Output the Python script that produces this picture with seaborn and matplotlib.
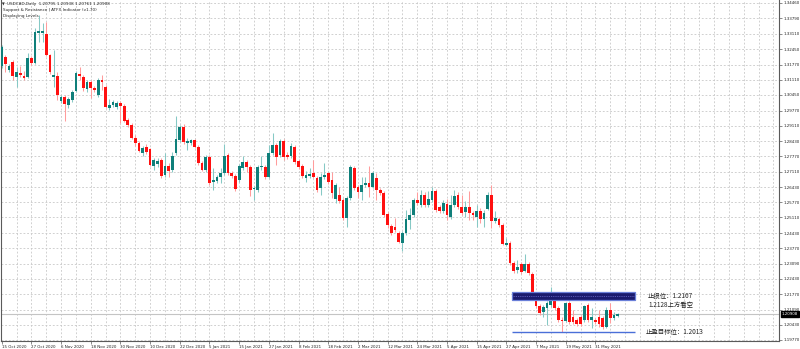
import matplotlib
matplotlib.use("Agg")
import matplotlib.pyplot as plt
from matplotlib.patches import Rectangle
import matplotlib.transforms as mtransforms
import numpy as np
import pandas as pd
import seaborn as sns

sns.set_theme(style="white")
plt.rcParams["font.family"] = ["DejaVu Sans"]

# ---- daily USDCAD candles ----
opens = [1.3171, 1.3211, 1.3154, 1.3189, 1.3123, 1.3141, 1.3128, 1.3123, 1.3206, 1.3184,
         1.3315, 1.3315, 1.3311, 1.3219, 1.3123, 1.3128, 1.3019, 1.3036, 1.3001, 1.3023,
         1.3062, 1.3136, 1.3123, 1.3071, 1.3101, 1.3075, 1.3045, 1.3110, 1.3080, 1.2988,
         1.3001, 1.2993, 1.3010, 1.2997, 1.2936, 1.2914, 1.2857, 1.2836, 1.2792, 1.2818,
         1.2809, 1.2735, 1.2744, 1.2761, 1.2696, 1.2735, 1.2718, 1.2792, 1.2849, 1.2905,
         1.2836, 1.2836, 1.2849, 1.2818, 1.2748, 1.2718, 1.2775, 1.2666, 1.2670, 1.2687,
         1.2705, 1.2783, 1.2705, 1.2692, 1.2674, 1.2727, 1.2753, 1.2731, 1.2635, 1.2631,
         1.2731, 1.2731, 1.2687, 1.2792, 1.2827, 1.2783, 1.2844, 1.2783, 1.2779, 1.2818,
         1.2757, 1.2735, 1.2683, 1.2692, 1.2705, 1.2683, 1.2639, 1.2687, 1.2705, 1.2674,
         1.2591, 1.2609, 1.2587, 1.2509, 1.2596, 1.2727, 1.2644, 1.2622, 1.2653, 1.2661,
         1.2644, 1.2683, 1.2631, 1.2618, 1.2526, 1.2474, 1.2469, 1.2443, 1.2400, 1.2443,
         1.2500, 1.2522, 1.2587, 1.2565, 1.2609, 1.2565, 1.2587, 1.2626, 1.2557, 1.2539,
         1.2570, 1.2513, 1.2565, 1.2609, 1.2557, 1.2535, 1.2557, 1.2530, 1.2513, 1.2539,
         1.2504, 1.2548, 1.2609, 1.2495, 1.2504, 1.2478, 1.2391, 1.2400, 1.2312, 1.2282,
         1.2308, 1.2277, 1.2308, 1.2264, 1.2160, 1.2125, 1.2099, 1.2116, 1.2129, 1.2164,
         1.2116, 1.2064, 1.2059, 1.2138, 1.2077, 1.2064, 1.2077, 1.2064, 1.2129, 1.2064,
         1.2064, 1.2077, 1.2072, 1.2033, 1.2107, 1.2072, 1.20795]
highs = [1.3263, 1.3219, 1.3180, 1.3197, 1.3167, 1.3171, 1.3149, 1.3228, 1.3215, 1.3337,
         1.3394, 1.3359, 1.3363, 1.3224, 1.3241, 1.3145, 1.3045, 1.3045, 1.3036, 1.3067,
         1.3149, 1.3167, 1.3132, 1.3110, 1.3110, 1.3084, 1.3119, 1.3132, 1.3088, 1.3027,
         1.3023, 1.3019, 1.3019, 1.3006, 1.2945, 1.2923, 1.2870, 1.2844, 1.2823, 1.2831,
         1.2814, 1.2770, 1.2770, 1.2770, 1.2792, 1.2748, 1.2796, 1.2953, 1.2914, 1.2918,
         1.2857, 1.2853, 1.2853, 1.2827, 1.2757, 1.2783, 1.2783, 1.2727, 1.2696, 1.2727,
         1.2831, 1.2792, 1.2713, 1.2700, 1.2744, 1.2779, 1.2761, 1.2740, 1.2648, 1.2740,
         1.2779, 1.2740, 1.2827, 1.2879, 1.2836, 1.2853, 1.2853, 1.2796, 1.2836, 1.2827,
         1.2766, 1.2744, 1.2713, 1.2727, 1.2761, 1.2692, 1.2705, 1.2748, 1.2709, 1.2709,
         1.2661, 1.2644, 1.2596, 1.2604, 1.2740, 1.2735, 1.2653, 1.2687, 1.2687, 1.2735,
         1.2713, 1.2705, 1.2639, 1.2626, 1.2535, 1.2482, 1.2509, 1.2452, 1.2452, 1.2543,
         1.2552, 1.2596, 1.2622, 1.2631, 1.2622, 1.2626, 1.2644, 1.2635, 1.2565, 1.2587,
         1.2591, 1.2609, 1.2631, 1.2622, 1.2609, 1.2583, 1.2626, 1.2539, 1.2565, 1.2552,
         1.2543, 1.2622, 1.2653, 1.2539, 1.2513, 1.2487, 1.2421, 1.2408, 1.2321, 1.2325,
         1.2317, 1.2352, 1.2317, 1.2273, 1.2168, 1.2134, 1.2129, 1.2147, 1.2208, 1.2173,
         1.2125, 1.2077, 1.2143, 1.2147, 1.2107, 1.2072, 1.2086, 1.2129, 1.2138, 1.2116,
         1.2072, 1.2107, 1.2081, 1.2121, 1.2138, 1.2099, 1.20938]
lows = [1.3163, 1.3145, 1.3145, 1.3110, 1.3080, 1.3123, 1.3110, 1.3119, 1.3176, 1.3180,
        1.3276, 1.3276, 1.3215, 1.3136, 1.3080, 1.3023, 1.3010, 1.2931, 1.2988, 1.3014,
        1.3058, 1.3110, 1.3062, 1.3058, 1.3032, 1.3058, 1.3036, 1.3067, 1.2988, 1.2979,
        1.2993, 1.2984, 1.2923, 1.2927, 1.2905, 1.2853, 1.2823, 1.2796, 1.2779, 1.2788,
        1.2735, 1.2718, 1.2731, 1.2683, 1.2687, 1.2687, 1.2709, 1.2783, 1.2840, 1.2831,
        1.2805, 1.2827, 1.2814, 1.2740, 1.2713, 1.2709, 1.2653, 1.2631, 1.2661, 1.2661,
        1.2696, 1.2696, 1.2683, 1.2626, 1.2666, 1.2718, 1.2709, 1.2604, 1.2587, 1.2622,
        1.2718, 1.2679, 1.2683, 1.2783, 1.2740, 1.2775, 1.2761, 1.2766, 1.2770, 1.2744,
        1.2722, 1.2683, 1.2666, 1.2683, 1.2683, 1.2622, 1.2609, 1.2679, 1.2657, 1.2596,
        1.2574, 1.2574, 1.2500, 1.2469, 1.2587, 1.2631, 1.2596, 1.2587, 1.2644, 1.2600,
        1.2639, 1.2587, 1.2609, 1.2513, 1.2465, 1.2434, 1.2447, 1.2400, 1.2365, 1.2434,
        1.2461, 1.2513, 1.2565, 1.2557, 1.2557, 1.2557, 1.2578, 1.2535, 1.2530, 1.2530,
        1.2500, 1.2504, 1.2557, 1.2548, 1.2522, 1.2513, 1.2500, 1.2500, 1.2469, 1.2487,
        1.2469, 1.2543, 1.2465, 1.2487, 1.2469, 1.2391, 1.2386, 1.2304, 1.2269, 1.2269,
        1.2264, 1.2273, 1.2260, 1.2151, 1.2116, 1.2086, 1.2077, 1.2042, 1.2121, 1.2107,
        1.2055, 1.2011, 1.2055, 1.2046, 1.2046, 1.2038, 1.2038, 1.2055, 1.2055, 1.2029,
        1.2046, 1.2033, 1.2025, 1.2029, 1.2051, 1.2064, 1.20761]
closes = [1.3254, 1.3180, 1.3171, 1.3128, 1.3145, 1.3132, 1.3119, 1.3206, 1.3184, 1.3319,
          1.3324, 1.3324, 1.3219, 1.3145, 1.3132, 1.3045, 1.3036, 1.3006, 1.3027, 1.3058,
          1.3141, 1.3128, 1.3075, 1.3101, 1.3075, 1.3067, 1.3110, 1.3101, 1.2993, 1.3001,
          1.3014, 1.3010, 1.2997, 1.2931, 1.2914, 1.2857, 1.2836, 1.2801, 1.2814, 1.2796,
          1.2740, 1.2761, 1.2757, 1.2692, 1.2735, 1.2713, 1.2779, 1.2853, 1.2905, 1.2840,
          1.2844, 1.2849, 1.2818, 1.2748, 1.2718, 1.2775, 1.2661, 1.2674, 1.2687, 1.2705,
          1.2779, 1.2705, 1.2692, 1.2635, 1.2735, 1.2753, 1.2731, 1.2631, 1.2639, 1.2731,
          1.2735, 1.2687, 1.2792, 1.2827, 1.2775, 1.2844, 1.2775, 1.2775, 1.2823, 1.2753,
          1.2731, 1.2692, 1.2696, 1.2700, 1.2687, 1.2631, 1.2687, 1.2696, 1.2666, 1.2618,
          1.2653, 1.2583, 1.2509, 1.2596, 1.2731, 1.2639, 1.2622, 1.2653, 1.2661, 1.2644,
          1.2705, 1.2631, 1.2618, 1.2522, 1.2478, 1.2443, 1.2456, 1.2404, 1.2443, 1.2504,
          1.2522, 1.2587, 1.2574, 1.2609, 1.2565, 1.2591, 1.2626, 1.2543, 1.2539, 1.2574,
          1.2522, 1.2565, 1.2604, 1.2557, 1.2530, 1.2557, 1.2530, 1.2522, 1.2539, 1.2504,
          1.2530, 1.2609, 1.2495, 1.2509, 1.2478, 1.2395, 1.2400, 1.2312, 1.2277, 1.2295,
          1.2273, 1.2308, 1.2269, 1.2160, 1.2125, 1.2094, 1.2121, 1.2138, 1.2164, 1.2116,
          1.2064, 1.2059, 1.2138, 1.2055, 1.2055, 1.2046, 1.2046, 1.2125, 1.2064, 1.2077,
          1.2055, 1.2046, 1.2033, 1.2107, 1.2072, 1.2086, 1.20908]

date_labels = ["15 Oct 2020", "27 Oct 2020", "6 Nov 2020", "18 Nov 2020", "30 Nov 2020",
               "10 Dec 2020", "22 Dec 2020", "5 Jan 2021", "15 Jan 2021", "27 Jan 2021",
               "8 Feb 2021", "18 Feb 2021", "2 Mar 2021", "12 Mar 2021", "24 Mar 2021",
               "5 Apr 2021", "15 Apr 2021", "27 Apr 2021", "7 May 2021", "19 May 2021",
               "31 May 2021"]
price_levels = [1.34460, 1.33790, 1.33110, 1.32450, 1.31770, 1.31110, 1.30450, 1.29770,
                1.29110, 1.28430, 1.27770, 1.27110, 1.26430, 1.25770, 1.25110, 1.24430,
                1.23770, 1.23090, 1.22430, 1.21770, 1.21090, 1.20430, 1.19770]

stop_loss = 1.2167
bear_below = 1.2128
take_profit = 1.2013

# ---- figure ----
W, H = 800, 349
fig = plt.figure(figsize=(W / 100, H / 100), dpi=100)
fig.patch.set_facecolor("white")
ax = fig.add_axes([1 / W, 8 / H, 778 / W, 341 / H])
ax.set_facecolor("white")

df = pd.DataFrame({"open": opens, "high": highs, "low": lows, "close": closes})
df["bar"] = np.arange(len(df))
up = df["close"] >= df["open"]

bull, bear = "#0f7f7a", "#ff1010"
bull_wick, bear_wick = "#86c9c5", "#ff9c9c"

for mask, body_c, wick_c in [(up, bull, bull_wick), (~up, bear, bear_wick)]:
    d = df[mask]
    ax.vlines(d["bar"], d["low"], d["high"], color=wick_c, lw=0.75, zorder=3)
    lo = np.minimum(d["open"], d["close"])
    h = np.maximum(np.abs(d["close"] - d["open"]), 0.00025)
    ax.bar(d["bar"], h, bottom=lo, width=0.74, color=body_c, linewidth=0, zorder=4)

x_left, x_right = -0.19, 209.5
ax.set_xlim(x_left, x_right)
ax.set_ylim(1.19722, 1.3459)

# dashed grid every 4 bars and at every price level
grid_kw = dict(color="#c9c9c9", lw=0.6, ls=(0, (2.2, 2.2)), zorder=1)
for gx in range(4, int(x_right) + 1, 4):
    ax.axvline(gx, **grid_kw)
for lv in price_levels:
    ax.axhline(lv, **grid_kw)

# last price line
last = closes[-1]
ax.axhline(last, color="#c4c4c4", lw=0.8, zorder=2)

# stop-loss band and target line
zone_x0, zone_x1 = 137.6, 170.7
band = Rectangle((zone_x0, stop_loss - 0.0017), zone_x1 - zone_x0, 0.0034,
                 facecolor="#1b1b6e", edgecolor="#6a7fd8", lw=0.9, zorder=5)
ax.add_patch(band)
ax.hlines(stop_loss, zone_x0, zone_x1, color="#7070d0", lw=0.6, ls=(0, (1, 1.2)), zorder=6)
ax.hlines(take_profit, zone_x0, zone_x1, color="#4a6fd8", lw=1.0, zorder=5)

cjk = ["Noto Sans CJK SC", "DejaVu Sans"]
lab_x = 174.2
ax.text(lab_x, stop_loss, f"止损位：{stop_loss:.4f}", family=cjk, fontsize=4.6,
        color="#222222", va="center", ha="left")
ax.text(lab_x, bear_below, f"{bear_below:.4f}上方看空", family=cjk, fontsize=4.6,
        color="#222222", va="center", ha="left")
ax.text(lab_x - 0.5, take_profit, f"止盈目标位：{take_profit:.4f}", family=cjk, fontsize=4.6,
        color="#222222", va="center", ha="left")

# axes frame
for side in ["left", "bottom", "right"]:
    ax.spines[side].set_visible(True)
    ax.spines[side].set_color("#5a5a5a")
    ax.spines[side].set_linewidth(0.8)
ax.spines["top"].set_visible(False)

# date axis
ax.set_xticks(np.arange(0, 8 * len(date_labels), 8))
ax.set_xticklabels(date_labels, fontsize=2.9, ha="left", color="#222222")
ax.tick_params(axis="x", length=2, width=0.5, pad=0.8, color="#5a5a5a", direction="out", bottom=True)

# price axis on the right
ax.yaxis.tick_right()
ax.set_yticks(price_levels)
ax.set_yticklabels([f"{v:.5f}" for v in price_levels], fontsize=2.9, color="#222222")
ax.tick_params(axis="y", length=2, width=0.5, pad=1.0, color="#5a5a5a", direction="out", right=True, left=False)
ax.grid(False)

# current price tag
tr = mtransforms.blended_transform_factory(ax.transAxes, ax.transData)
ax.text(1.0035, last, f"{last:.5f}", transform=tr, fontsize=2.9, color="white",
        va="center", ha="left", zorder=10, clip_on=False,
        bbox=dict(boxstyle="square,pad=0.25", facecolor="black", edgecolor="black"))

# chart header
fig.text(2 / W, 1 - 4 / H, "▼", fontsize=2.6, color="#333333", va="center", ha="left")
fig.text(7 / W, 1 - 4 / H,
         f"USDCAD,Daily  {opens[-1]:.5f} {highs[-1]:.5f} {lows[-1]:.5f} {closes[-1]:.5f}",
         fontsize=3.0, color="#222222", va="center", ha="left")
fig.text(3 / W, 1 - 10 / H, "Support & Resistance | ATFX Indicator (v1.70)",
         fontsize=3.0, color="#222222", va="center", ha="left")
fig.text(3 / W, 1 - 16 / H, "Displaying Levels", fontsize=3.0, color="#222222",
         va="center", ha="left")

fig.savefig("out.png", dpi=100, facecolor="white")
